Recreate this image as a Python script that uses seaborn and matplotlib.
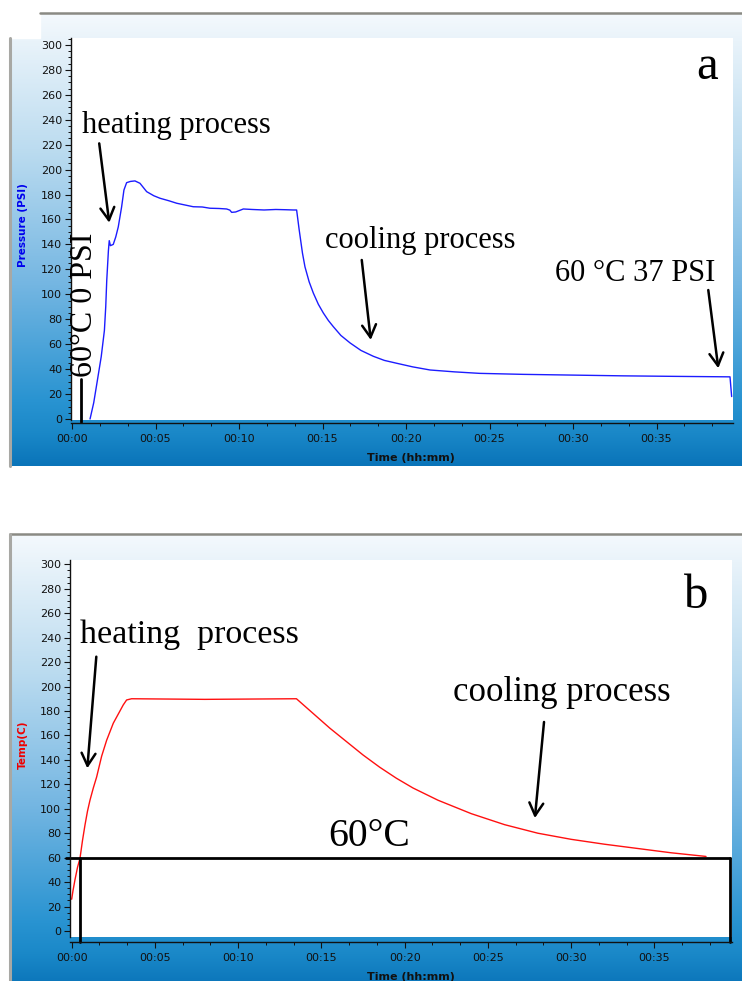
import numpy as np
import pandas as pd
import matplotlib
matplotlib.use("Agg")
import matplotlib.pyplot as plt
import seaborn as sns
from matplotlib.colors import LinearSegmentedColormap
from matplotlib.ticker import MultipleLocator

# ---------------- data ----------------
pressure_time = [1.08, 1.3, 1.52, 1.75, 1.94, 2.02, 2.08, 2.18, 2.23, 2.3, 2.47, 2.62, 2.77,
                 2.97, 3.11, 3.27, 3.5, 3.77, 4.07, 4.47, 4.9, 5.27, 5.8, 6.27, 6.8,
                 7.26, 7.8, 8.26, 8.8, 9.26, 9.45, 9.56, 9.8, 10.26, 10.8, 11.5, 12.2,
                 12.8, 13.25, 13.45, 13.6, 13.8, 13.95, 14.2, 14.45, 14.75, 15.05, 15.35,
                 15.65, 16.1, 16.65, 17.3, 18.04, 18.7, 19.44, 20.4, 21.44, 22.9, 24.4,
                 27.0, 30.0, 33.0, 36.0, 39.4, 39.5]
pressure_psi = [0, 13, 31, 50, 71, 90, 111, 135, 143, 139, 140, 146, 154,
                170, 183.6, 189.5, 190.5, 190.9, 189, 182.3, 179, 177, 175, 173, 171.5,
                170.2, 170, 169, 168.8, 168.4, 167.5, 165.7, 166, 168.4, 168, 167.6, 168,
                167.8, 167.6, 167.6, 152, 133, 122, 110, 101, 92, 85, 79,
                74, 67, 61, 55, 50.3, 47, 44.7, 41.8, 39.3, 37.8, 36.6,
                35.8, 35.2, 34.6, 34.2, 33.8, 18]

temp_time = [0.0, 0.08, 0.2, 0.35, 0.5, 0.65, 0.8, 0.95, 1.1, 1.3, 1.5, 1.8, 2.1, 2.3,
             2.5, 2.7, 2.9, 3.1, 3.3, 3.6, 8.0, 13.5, 14.0, 14.5, 15.5, 16.5, 17.5,
             18.5, 19.5, 20.5, 22.0, 24.0, 26.0, 28.0, 30.0, 32.0, 34.0, 36.0, 38.1]
temp_c = [26, 33, 42, 52, 59.5, 74, 86.7, 98, 107, 117, 126, 143, 156, 163,
          170, 175, 180, 185, 189, 190, 189.5, 190, 184, 178, 166, 155, 144,
          134, 125, 117, 107, 96, 87, 80, 75, 71, 67.5, 64, 61]

tick_minutes = [0, 5, 10, 15, 20, 25, 30, 35]
tick_labels = ["00:00", "00:05", "00:10", "00:15", "00:20", "00:25", "00:30", "00:35"]
y_ticks = [0, 20, 40, 60, 80, 100, 120, 140, 160, 180, 200, 220, 240, 260, 280, 300]

df_p = pd.DataFrame({"t": pressure_time, "p": pressure_psi})
df_t = pd.DataFrame({"t": temp_time, "T": temp_c})

# ---------------- figure ----------------
sns.set_theme(style="ticks")
plt.rcParams['font.family'] = ['DejaVu Sans']

W, H = 742, 981
fig = plt.figure(figsize=(W / 100, H / 100), dpi=100)
fig.patch.set_facecolor('white')


def fx(px):
    return px / W


def fy(py):
    return 1 - py / H


# background "window" panels
bg = fig.add_axes([0, 0, 1, 1], zorder=0)
bg.set_xlim(0, W)
bg.set_ylim(H, 0)
bg.axis('off')
cmap = LinearSegmentedColormap.from_list(
    'win', [(0, '#f4f9fd'), (0.06, '#e9f3fa'), (0.3, '#bcdcf0'), (0.6, '#74b6e2'),
            (0.86, '#2893d1'), (0.93, '#1a88c8'), (1, '#0a74b9')])
grad = np.linspace(0, 1, 256).reshape(-1, 1)
bg.imshow(grad, cmap=cmap, extent=(10, 742, 466, 13), aspect='auto', interpolation='bilinear')
bg.imshow(grad, cmap=cmap, extent=(10, 742, 987, 534), aspect='auto', interpolation='bilinear')
bg.add_patch(plt.Rectangle((0, 0), 40, 38, color='white', zorder=3))
bg.plot([40, 742], [13, 13], color='#8a8a84', lw=1.8, zorder=4)
bg.plot([10, 10], [38, 466], color='#a8a8a4', lw=2.2, zorder=4)
bg.plot([10, 742], [534, 534], color='#8a8a84', lw=1.8, zorder=4)
bg.plot([10, 10], [534, 981], color='#a8a8a4', lw=2.2, zorder=4)
bg.set_xlim(0, W)
bg.set_ylim(H, 0)

serif = 'Liberation Serif'

# ---------------- axes ----------------
axA = fig.add_axes([fx(71), fy(419.6), fx(733) - fx(71), fy(38) - fy(419.6)], zorder=2)
axB = fig.add_axes([fx(70), fy(937), fx(732) - fx(70), fy(560) - fy(937)], zorder=2)

sns.lineplot(data=df_p, x="t", y="p", ax=axA, color='#1c1cff', lw=1.0,
             estimator=None, sort=False)
sns.lineplot(data=df_t, x="t", y="T", ax=axB, color='#ff1010', lw=1.0,
             estimator=None, sort=False)

axA.set_xlim(-0.06, 39.58)
axA.set_ylim(-0.48, 305.5)
axB.set_xlim(-0.1, 39.66)
axB.set_ylim(-4.9, 303.5)

for ax, off in ((axA, 2.3), (axB, 3.4)):
    ax.set_facecolor('white')
    ax.set_xlabel('')
    ax.set_ylabel('')
    ax.spines['top'].set_visible(False)
    ax.spines['right'].set_visible(False)
    ax.spines['left'].set_color('#111111')
    ax.spines['bottom'].set_color('#111111')
    ax.spines['left'].set_linewidth(1.0)
    ax.spines['bottom'].set_linewidth(1.0)
    ax.spines['bottom'].set_position(('outward', off))
    ax.set_xticks(tick_minutes)
    ax.set_xticklabels(tick_labels)
    ax.set_yticks(y_ticks)
    ax.xaxis.set_minor_locator(MultipleLocator(5 / 3))
    ax.yaxis.set_minor_locator(MultipleLocator(5))
    ax.tick_params(which='major', direction='out', length=4.3, width=0.8,
                   color='#111111', labelsize=8, labelcolor='#111111')
    ax.tick_params(which='minor', direction='out', length=2.2, width=0.7, color='#111111')
    ax.tick_params(axis='y', pad=2)
    ax.tick_params(axis='x', pad=3.5)
    ax.grid(False)

# axis titles
fig.text(fx(23), fy(225), "Pressure (PSI)", rotation=90, color='#0000ee',
         fontsize=7.5, fontweight='bold', ha='center', va='center')
fig.text(fx(23), fy(745), "Temp(C)", rotation=90, color='#ee0000',
         fontsize=7.5, fontweight='bold', ha='center', va='center')
fig.text(fx(411), fy(458), "Time (hh:mm)", color='#111111', fontsize=8,
         fontweight='bold', ha='center', va='center')
fig.text(fx(411), fy(977), "Time (hh:mm)", color='#111111', fontsize=8,
         fontweight='bold', ha='center', va='center')

arrow_kw = dict(arrowstyle='->,head_length=0.45,head_width=0.25', lw=1.8,
                color='black', mutation_scale=20, shrinkA=0, shrinkB=0)
txt = dict(family=serif, color='black', va='baseline', ha='left')

# annotations panel a
axA.text(37.4, 272.7, "a", fontsize=35, **txt)
axA.text(0.6, 229, "heating process", fontsize=22, **txt)
axA.annotate('', xy=(2.23, 157.4), xytext=(1.63, 221), arrowprops=arrow_kw)
axA.text(15.15, 136.9, "cooling process", fontsize=22, **txt)
axA.annotate('', xy=(17.89, 63.4), xytext=(17.35, 127.5), arrowprops=arrow_kw)
axA.text(28.92, 110.9, "60 \u00b0C 37 PSI", fontsize=22, **txt)
axA.annotate('', xy=(38.7, 40.7), xytext=(38.1, 103.4), arrowprops=arrow_kw)
axA.text(0.72, 33.7, "60\u00b0C 0 PSI", family=serif, color='black', fontsize=23,
         rotation=90, va='bottom', ha='center')
axA.plot([0.54, 0.54], [32, -2.6], color='black', lw=2, clip_on=False)

# annotations panel b
axB.text(36.8, 264.3, "b", fontsize=35, **txt)
axB.text(0.5, 236, "heating  process", fontsize=24.5, **txt)
axB.annotate('', xy=(0.94, 133.1), xytext=(1.48, 224.4), arrowprops=arrow_kw)
axB.text(22.9, 188.2, "cooling process", fontsize=25, **txt)
axB.annotate('', xy=(27.82, 92.4), xytext=(28.37, 171), arrowprops=arrow_kw)
axB.text(15.4, 69.5, "60\u00b0C", fontsize=28.5, **txt)
axB.plot([-0.34, 39.54], [60, 60], color='black', lw=2, clip_on=False)
axB.plot([0.5, 0.5], [60, -8.7], color='black', lw=2, clip_on=False)
axB.plot([39.54, 39.54], [60, -8.7], color='black', lw=2, clip_on=False)

fig.savefig("out.png", dpi=100, facecolor='white')
